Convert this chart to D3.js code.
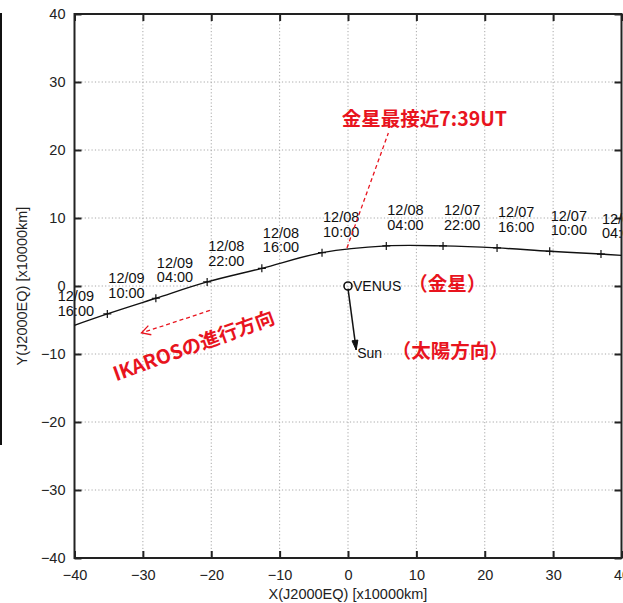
<!DOCTYPE html>
<html><head><meta charset="utf-8">
<script src="https://cdn.jsdelivr.net/npm/d3@7"></script>
<style>
html,body{margin:0;padding:0;background:#fff;}
svg{display:block;}
</style></head>
<body>
<svg id="chart" width="623" height="603"></svg>
<script>
// ---- data ----
const xTicks = [-40, -30, -20, -10, 0, 10, 20, 30, 40];
const yTicks = [-40, -30, -20, -10, 0, 10, 20, 30, 40];
const trackX = [-42.6, -35.2, -28.1, -20.6, -12.6, -3.8, 5.6, 13.9, 21.8, 29.5, 37.0, 40.0];
const trackY = [-6.7, -4.1, -1.8, 0.6, 2.6, 4.9, 5.9, 5.9, 5.6, 5.1, 4.7, 4.5];
const trackDates = ["12/09", "12/09", "12/09", "12/08", "12/08", "12/08", "12/08", "12/07", "12/07", "12/07", "12/07", null];
const trackTimes = ["16:00", "10:00", "04:00", "22:00", "16:00", "10:00", "04:00", "22:00", "16:00", "10:00", "04:00", null];
const venus = [0, 0];
const sunArrow = [[0, -0.4], [1.2, -9.4]];
const closestLine = [[-0.15, 5.6], [5.9, 22.5]];
const moveArrow = [[-20.2, -3.6], [-30.2, -6.9]];
const xTitle = "X(J2000EQ) [x10000km]";
const yTitle = "Y(J2000EQ) [x10000km]";
const redTexts = [
  {t: "金星最接近7:39UT", x: -0.9, y: 23.6, rot: 0},
  {t: "（金星）", x: 8.8, y: -0.8, rot: 0},
  {t: "（太陽方向）", x: 6.4, y: -10.6, rot: 0},
  {t: "IKAROSの進行方向", x: -33.9, y: -14.0, rot: -20}
];

// ---- layout ----
const svg = d3.select("#chart");
const L = 74.5, R = 621.5, T = 14, B = 558;
const x = d3.scaleLinear().domain([-40, 40]).range([L, R]);
const y = d3.scaleLinear().domain([-40, 40]).range([B, T]);
const font = "'Liberation Sans', Arial, Helvetica, sans-serif";
const cjk = "'Noto Sans CJK JP', 'Noto Sans', sans-serif";
const red = "#e8141e";

// artifact line at far left
svg.append("line").attr("x1", 1).attr("x2", 1).attr("y1", 13).attr("y2", 445)
  .attr("stroke", "#111").attr("stroke-width", 2);

// grid
const inner = v => v > -40 && v < 40;
const grid = svg.append("g").attr("stroke", "#a8a8a8").attr("stroke-width", 1).attr("stroke-dasharray", "1.2,2.2");
grid.selectAll(".gx").data(xTicks.filter(inner)).join("line")
  .attr("x1", d => x(d)).attr("x2", d => x(d)).attr("y1", T).attr("y2", B);
grid.selectAll(".gy").data(yTicks.filter(inner)).join("line")
  .attr("y1", d => y(d)).attr("y2", d => y(d)).attr("x1", L).attr("x2", R);

// axes
function styleAxis(g, showLabels) {
  g.select(".domain").remove();
  g.selectAll(".tick line").attr("stroke", "#222").attr("stroke-width", 2);
  g.selectAll(".tick text").attr("font-family", font).attr("font-size", 14.5).attr("fill", "#222");
  if (!showLabels) g.selectAll(".tick text").remove();
}
svg.append("g").attr("transform", `translate(0,${B})`)
  .call(d3.axisBottom(x).tickValues(xTicks).tickSize(-7).tickPadding(12).tickFormat(d3.format("d")))
  .call(g => styleAxis(g, true));
svg.append("g").attr("transform", `translate(0,${T})`)
  .call(d3.axisTop(x).tickValues(xTicks).tickSize(-7))
  .call(g => styleAxis(g, false));
svg.append("g").attr("transform", `translate(${L},0)`)
  .call(d3.axisLeft(y).tickValues(yTicks).tickSize(-7).tickPadding(9).tickFormat(d3.format("d")))
  .call(g => styleAxis(g, true));
svg.append("g").attr("transform", `translate(${R},0)`)
  .call(d3.axisRight(y).tickValues(yTicks).tickSize(-7))
  .call(g => styleAxis(g, false));

// border
svg.append("rect").attr("x", L).attr("y", T).attr("width", R - L).attr("height", B - T)
  .attr("fill", "none").attr("stroke", "#222").attr("stroke-width", 2);

// axis titles
svg.append("text").attr("x", x(0)).attr("y", 599).attr("text-anchor", "middle")
  .attr("font-family", font).attr("font-size", 14.5).attr("fill", "#222").text(xTitle);
svg.append("text").attr("transform", `translate(27,${y(0)}) rotate(-90)`).attr("text-anchor", "middle")
  .attr("font-family", font).attr("font-size", 14.5).attr("fill", "#222").text(yTitle);

// clip
svg.append("clipPath").attr("id", "plotclip").append("rect")
  .attr("x", L).attr("y", T).attr("width", R - L).attr("height", B - T);

// trajectory
const pts = trackX.map((v, i) => [v, trackY[i]]);
const line = d3.line().x(d => x(d[0])).y(d => y(d[1])).curve(d3.curveCatmullRom.alpha(0.5));
svg.append("path").attr("clip-path", "url(#plotclip)").attr("d", line(pts))
  .attr("fill", "none").attr("stroke", "#111").attr("stroke-width", 1.4);
const marks = pts.filter((d, i) => trackDates[i] !== null);
svg.append("g").attr("clip-path", "url(#plotclip)").selectAll("path").data(marks).join("path")
  .attr("d", d => `M${x(d[0]) - 4},${y(d[1])}H${x(d[0]) + 4}M${x(d[0])},${y(d[1]) - 4}V${y(d[1]) + 4}`)
  .attr("stroke", "#111").attr("stroke-width", 1.2);
const lab = svg.append("g").attr("font-family", font).attr("font-size", 14.5).attr("fill", "#111");
pts.forEach((d, i) => {
  if (trackDates[i] === null) return;
  const t = lab.append("text").attr("x", x(d[0]) + 1).attr("y", y(d[1]) - 30.5);
  t.append("tspan").attr("x", x(d[0]) + 1).text(trackDates[i]);
  t.append("tspan").attr("x", x(d[0]) + 1).attr("dy", 14.5).text(trackTimes[i]);
});

// venus
svg.append("circle").attr("cx", x(venus[0])).attr("cy", y(venus[1])).attr("r", 4)
  .attr("fill", "none").attr("stroke", "#111").attr("stroke-width", 1.6);
svg.append("text").attr("x", x(venus[0]) + 5).attr("y", y(venus[1]) + 5)
  .attr("font-family", font).attr("font-size", 14).attr("fill", "#111").text("VENUS");

// sun arrow
function arrowHead(p0, p1, len, ang) {
  const x0 = x(p0[0]), y0 = y(p0[1]), x1 = x(p1[0]), y1 = y(p1[1]);
  const a = Math.atan2(y1 - y0, x1 - x0);
  const a1 = a + Math.PI - ang, a2 = a + Math.PI + ang;
  return `M${x1 + len * Math.cos(a1)},${y1 + len * Math.sin(a1)}L${x1},${y1}L${x1 + len * Math.cos(a2)},${y1 + len * Math.sin(a2)}`;
}
svg.append("line").attr("x1", x(sunArrow[0][0])).attr("y1", y(sunArrow[0][1]))
  .attr("x2", x(sunArrow[1][0])).attr("y2", y(sunArrow[1][1]))
  .attr("stroke", "#111").attr("stroke-width", 1.5);
svg.append("path").attr("d", arrowHead(sunArrow[0], sunArrow[1], 10, 0.3) + "Z")
  .attr("fill", "#111").attr("stroke", "#111").attr("stroke-width", 1);
svg.append("text").attr("x", x(sunArrow[1][0]) + 1).attr("y", y(sunArrow[1][1]) + 8)
  .attr("font-family", font).attr("font-size", 14).attr("fill", "#111").text("Sun");

// red annotations
svg.append("line").attr("x1", x(closestLine[0][0])).attr("y1", y(closestLine[0][1]))
  .attr("x2", x(closestLine[1][0])).attr("y2", y(closestLine[1][1]))
  .attr("stroke", red).attr("stroke-width", 1.3).attr("stroke-dasharray", "4,3");
svg.append("line").attr("x1", x(moveArrow[0][0])).attr("y1", y(moveArrow[0][1]))
  .attr("x2", x(moveArrow[1][0])).attr("y2", y(moveArrow[1][1]))
  .attr("stroke", red).attr("stroke-width", 1.3).attr("stroke-dasharray", "4,3");
svg.append("path").attr("d", arrowHead(moveArrow[0], moveArrow[1], 10, 0.5))
  .attr("fill", "none").attr("stroke", red).attr("stroke-width", 1.3);

svg.append("g").selectAll("text").data(redTexts).join("text")
  .attr("transform", d => `translate(${x(d.x)},${y(d.y)}) rotate(${d.rot})`)
  .attr("font-family", cjk).attr("font-weight", 700).attr("font-size", 19.5)
  .attr("fill", red).text(d => d.t);
</script>
</body></html>
